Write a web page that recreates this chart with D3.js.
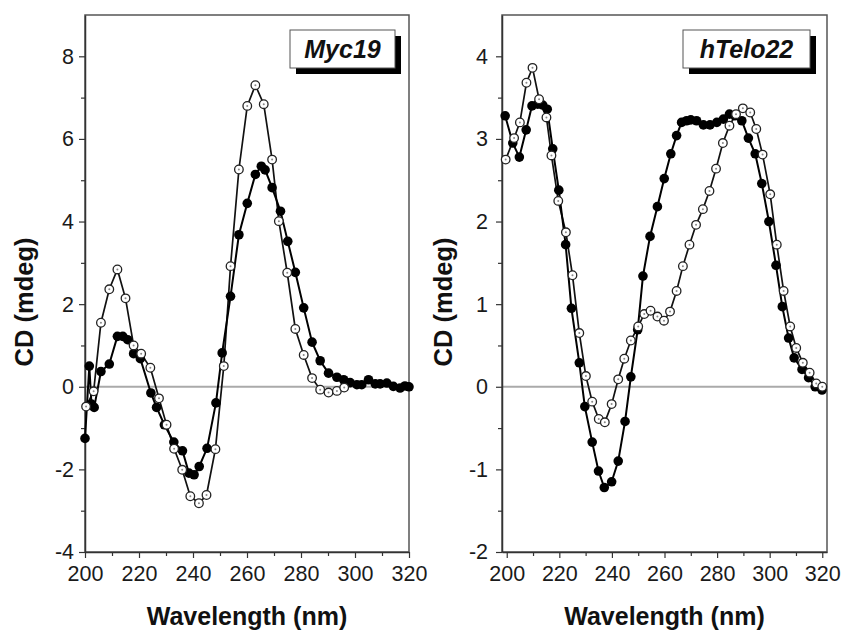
<!DOCTYPE html>
<html>
<head>
<meta charset="utf-8">
<script src="https://cdn.jsdelivr.net/npm/d3@7"></script>
<style>
  body { margin: 0; background: #fff; }
  svg { display: block; font-family: "Liberation Sans", Arial, sans-serif; }
</style>
</head>
<body>
<div id="chart"></div>
<script>
// Myc19 panel
var mycOpenNm  = [200.4, 203.2, 205.9, 209, 212, 215, 218, 220.8, 224.2, 227.4, 230.2, 233, 236, 239, 242.2, 245, 248.3, 251.4, 253.9, 257, 260.1, 263.1, 266.2, 269.3, 271.8, 274.9, 277.9, 281, 284.1, 287.1, 290.2, 293.3, 296];
var mycOpenVal = [-0.48, -0.11, 1.55, 2.36, 2.84, 2.14, 1.0, 0.8, 0.46, -0.28, -0.92, -1.5, -2.01, -2.65, -2.82, -2.62, -1.51, 0.5, 2.92, 5.26, 6.8, 7.3, 6.84, 5.5, 4.01, 2.76, 1.4, 0.77, 0.21, -0.07, -0.14, -0.1, -0.02];
var mycFillNm  = [200, 201.6, 202.4, 203.4, 205.9, 209, 212, 214, 215.8, 218, 220.5, 224.4, 226.5, 229.4, 232.9, 236.1, 238.5, 240.4, 242.3, 245.2, 248.5, 250.8, 253.9, 257, 260.1, 263.1, 265.3, 266.7, 269.3, 272.4, 275.1, 277.9, 281, 284.1, 287.1, 290.2, 293.3, 295.8, 298.2, 300.7, 302.5, 305, 307.5, 309.3, 311.8, 314.2, 316.7, 318.5, 320];
var mycFillVal = [-1.25, 0.5, -0.42, -0.5, 0.37, 0.55, 1.22, 1.22, 1.14, 0.8, 0.68, -0.15, -0.5, -0.92, -1.34, -1.55, -2.09, -2.13, -1.93, -1.49, -0.39, 0.82, 2.19, 3.68, 4.44, 5.14, 5.34, 5.25, 4.82, 4.25, 3.52, 2.77, 1.91, 1.08, 0.63, 0.33, 0.23, 0.17, 0.1, 0.05, 0.05, 0.17, 0.07, 0.07, 0.09, 0.01, -0.03, 0.02, 0.0];

// hTelo22 panel
var teloOpenNm  = [199.6, 202.8, 205, 207.5, 209.8, 212.3, 215.1, 217, 219.6, 222.5, 225, 227.6, 230.1, 232.5, 235, 237.3, 239.9, 242.4, 244.7, 247.2, 250, 252.3, 254.7, 257.3, 259.8, 262.1, 264.6, 267, 269.5, 272, 274.6, 277.1, 279.6, 282.2, 284.7, 287.2, 289.8, 292.6, 294.9, 297.3, 300.2, 302.7, 305.3, 307.8, 310.1, 312.6, 315.2, 317.7, 320];
var teloOpenVal = [2.75, 3.01, 3.2, 3.68, 3.86, 3.48, 3.26, 2.8, 2.25, 1.87, 1.35, 0.65, 0.13, -0.18, -0.39, -0.43, -0.21, 0.09, 0.34, 0.56, 0.73, 0.88, 0.92, 0.85, 0.8, 0.91, 1.16, 1.46, 1.72, 1.96, 2.15, 2.37, 2.64, 2.95, 3.16, 3.3, 3.37, 3.32, 3.12, 2.81, 2.33, 1.72, 1.16, 0.73, 0.47, 0.29, 0.17, 0.04, 0.0];
var teloFillNm  = [199.4, 202.3, 204.8, 207.4, 209.6, 211.8, 213.7, 215.4, 217.5, 219.8, 222.4, 224.6, 227.6, 229.7, 232.5, 234.9, 237.1, 239.9, 242.4, 245, 247.2, 249.8, 251.8, 254.5, 257.3, 259.9, 262.4, 264.6, 266.5, 268.4, 270, 272.2, 274.8, 277.3, 279.9, 282.4, 284.7, 286.8, 289.4, 291.9, 294.5, 297, 299.7, 302.4, 304.8, 307.2, 309.3, 312.3, 314.8, 317.3, 319.9];
var teloFillVal = [3.28, 2.95, 2.78, 3.11, 3.4, 3.42, 3.41, 3.36, 2.88, 2.38, 1.72, 0.95, 0.29, -0.24, -0.67, -1.02, -1.22, -1.15, -0.9, -0.42, 0.12, 0.69, 1.34, 1.82, 2.18, 2.52, 2.82, 3.04, 3.2, 3.22, 3.23, 3.22, 3.17, 3.17, 3.2, 3.24, 3.3, 3.28, 3.22, 3.01, 2.82, 2.46, 2.0, 1.47, 0.97, 0.59, 0.35, 0.21, 0.11, 0.0, -0.04];

var xTicks = [200, 220, 240, 260, 280, 300, 320];
var xMinor = [210, 230, 250, 270, 290, 310];
var mycYTicks = [-4, -2, 0, 2, 4, 6, 8];
var mycYMinor = [-3, -1, 1, 3, 5, 7];
var teloYTicks = [-2, -1, 0, 1, 2, 3, 4];
var teloYMinor = [-1.5, -0.5, 0.5, 1.5, 2.5, 3.5];

var width = 843;
var height = 631;

var svg = d3.select("#chart")
    .append("svg")
    .attr("width", width)
    .attr("height", height);

function zip(xs, ys) {
    return xs.map(function(x, i) { return [x, ys[i]]; });
}

var panels = [
    { name: "Myc19", left: 85, right: 409, xDom: [200, 320], yDom: [-4, 9],
      yTicks: mycYTicks, yMinor: mycYMinor, labelPad: 5, titleX: 33,
      open: zip(mycOpenNm, mycOpenVal), fill: zip(mycFillNm, mycFillVal),
      box: [290, 30, 105, 38] },
    { name: "hTelo22", left: 502, right: 827, xDom: [198.2, 321.8], yDom: [-2, 4.5],
      yTicks: teloYTicks, yMinor: teloYMinor, labelPad: 8, titleX: 452,
      open: zip(teloOpenNm, teloOpenVal), fill: zip(teloFillNm, teloFillVal),
      box: [683, 30, 127, 38] }
];

var plotTop = 15, plotBottom = 552;

panels.forEach(function(p) {
    var x = d3.scaleLinear().domain(p.xDom).range([p.left, p.right]);
    var y = d3.scaleLinear().domain(p.yDom).range([plotBottom, plotTop]);
    var g = svg.append("g");

    // zero line
    g.append("line")
        .attr("x1", p.left).attr("x2", p.right)
        .attr("y1", y(0)).attr("y2", y(0))
        .attr("stroke", "#aaa")
        .attr("stroke-width", 2);

    // frame
    g.append("rect")
        .attr("x", p.left).attr("y", plotTop)
        .attr("width", p.right - p.left).attr("height", plotBottom - plotTop)
        .attr("fill", "none")
        .attr("stroke", "#555")
        .attr("stroke-width", 1.5);

    // minor ticks
    g.append("g")
        .attr("transform", "translate(0," + plotBottom + ")")
        .call(d3.axisBottom(x).tickValues(xMinor).tickSize(4).tickFormat(""))
        .call(function(a) { a.select(".domain").remove(); });
    g.append("g")
        .attr("transform", "translate(" + p.left + ",0)")
        .call(d3.axisLeft(y).tickValues(p.yMinor).tickSize(4).tickFormat(""))
        .call(function(a) { a.select(".domain").remove(); });

    // major axes
    var xa = g.append("g")
        .attr("transform", "translate(0," + plotBottom + ")")
        .call(d3.axisBottom(x).tickValues(xTicks).tickSize(6).tickSizeOuter(0).tickPadding(8)
            .tickFormat(function(d) { return String(d); }));
    var ya = g.append("g")
        .attr("transform", "translate(" + p.left + ",0)")
        .call(d3.axisLeft(y).tickValues(p.yTicks).tickSize(6).tickSizeOuter(0).tickPadding(p.labelPad)
            .tickFormat(function(d) { return String(d); }));
    [xa, ya].forEach(function(a) {
        a.select(".domain").attr("stroke", "#333").attr("stroke-width", 1.5);
        a.selectAll(".tick text")
            .attr("font-size", "21.5px")
            .attr("font-family", "Liberation Sans, Arial, sans-serif")
            .attr("fill", "#1a1a1a");
    });
    g.selectAll(".tick line").attr("stroke", "#333").attr("stroke-width", 1.2);

    // titles
    g.append("text")
        .attr("x", (p.left + p.right) / 2)
        .attr("y", 625)
        .attr("text-anchor", "middle")
        .attr("font-size", "25px")
        .attr("font-weight", "bold")
        .attr("fill", "#111")
        .text("Wavelength (nm)");
    g.append("text")
        .attr("transform", "translate(" + p.titleX + "," + 302 + ") rotate(-90)")
        .attr("text-anchor", "middle")
        .attr("font-size", "25.5px")
        .attr("font-weight", "bold")
        .attr("fill", "#111")
        .text("CD (mdeg)");

    var line = d3.line()
        .x(function(d) { return x(d[0]); })
        .y(function(d) { return y(d[1]); });

    // open series
    g.append("path")
        .datum(p.open)
        .attr("d", line)
        .attr("fill", "none")
        .attr("stroke", "#111")
        .attr("stroke-width", 1.7);
    // filled series
    g.append("path")
        .datum(p.fill)
        .attr("d", line)
        .attr("fill", "none")
        .attr("stroke", "#000")
        .attr("stroke-width", 2);

    g.selectAll("circle.fill")
        .data(p.fill)
        .enter()
        .append("circle")
        .attr("class", "fill")
        .attr("cx", function(d) { return x(d[0]); })
        .attr("cy", function(d) { return y(d[1]); })
        .attr("r", 4.8)
        .attr("fill", "#000");

    g.selectAll("circle.open")
        .data(p.open)
        .enter()
        .append("circle")
        .attr("class", "open")
        .attr("cx", function(d) { return x(d[0]); })
        .attr("cy", function(d) { return y(d[1]); })
        .attr("r", 4.3)
        .attr("fill", "#fff")
        .attr("stroke", "#222")
        .attr("stroke-width", 1.3);
    g.selectAll("circle.dot")
        .data(p.open)
        .enter()
        .append("circle")
        .attr("class", "dot")
        .attr("cx", function(d) { return x(d[0]); })
        .attr("cy", function(d) { return y(d[1]); })
        .attr("r", 1)
        .attr("fill", "#888");

    // label box with shadow
    var b = p.box;
    g.append("rect")
        .attr("x", b[0] + 6).attr("y", b[1] + 6)
        .attr("width", b[2]).attr("height", b[3])
        .attr("fill", "#000");
    g.append("rect")
        .attr("x", b[0]).attr("y", b[1])
        .attr("width", b[2]).attr("height", b[3])
        .attr("fill", "#fff")
        .attr("stroke", "#555")
        .attr("stroke-width", 1);
    g.append("text")
        .attr("x", b[0] + b[2] / 2)
        .attr("y", b[1] + 28)
        .attr("text-anchor", "middle")
        .attr("font-size", "25px")
        .attr("font-weight", "bold")
        .attr("font-style", "italic")
        .attr("fill", "#111")
        .text(p.name);
});
</script>
</body>
</html>
